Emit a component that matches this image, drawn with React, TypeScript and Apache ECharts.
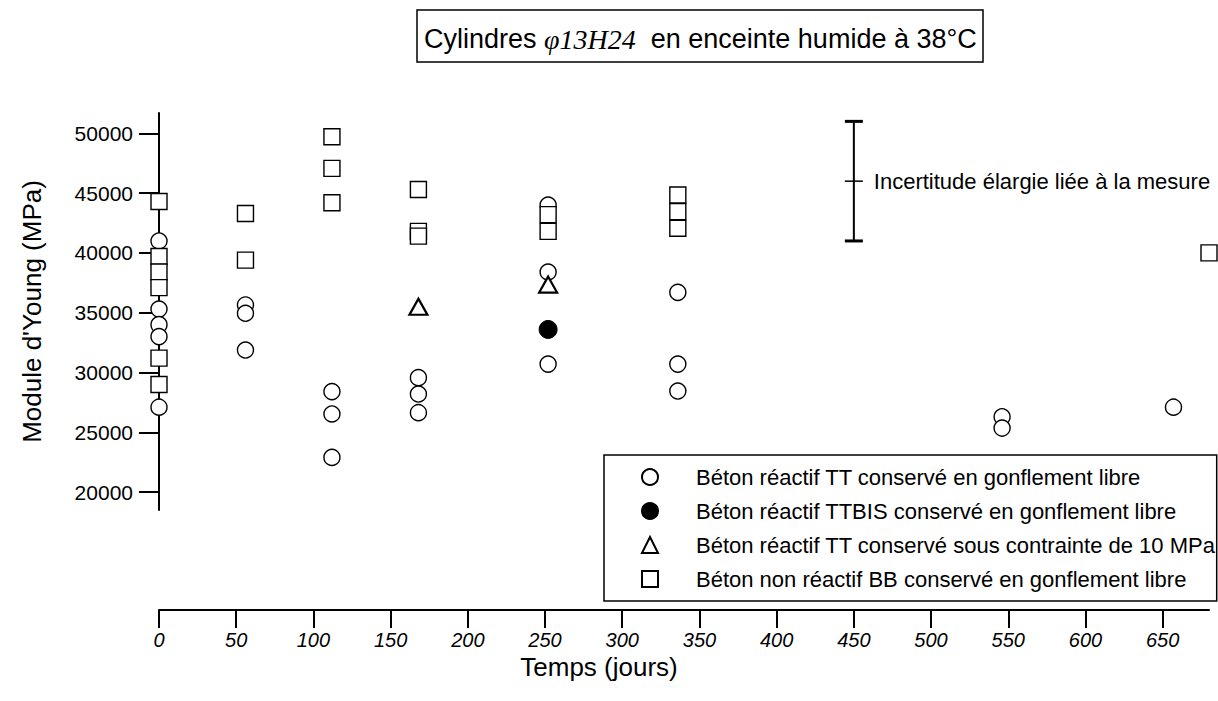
import React, { useEffect, useRef } from "react";
import * as echarts from "echarts";

// ---- data (days, Young's modulus MPa) ----
const ttFreeCircles: [number, number][] = [
  [0, 41000], [0, 35300], [0, 34000], [0, 33000], [0, 27100],
  [56, 35650], [56, 34950], [56, 31880],
  [112, 28400], [112, 26530], [112, 22900],
  [168, 29570], [168, 28200], [168, 26640],
  [252, 44000], [252, 38400], [252, 30700],
  [336, 36700], [336, 30700], [336, 28450],
  [546, 26300], [546, 25350],
  [657, 27100],
];
const ttbisFree: [number, number][] = [[252, 33600]];
const ttStressed: [number, number][] = [[168, 35500], [252, 37350]];
const bbFreeSquares: [number, number][] = [
  [0, 44300], [0, 39700], [0, 38400], [0, 37100], [0, 31200], [0, 29000],
  [56, 43300], [56, 39400],
  [112, 49720], [112, 47070], [112, 44200],
  [168, 45300], [168, 41800], [168, 41400],
  [252, 43200], [252, 41800],
  [336, 44840], [336, 43450], [336, 42060],
  [680, 40000],
];
// uncertainty bar: [day, low, high, centre]
const uncertainty: [number, number, number, number][] = [[450, 41000, 51000, 46000]];

const xTicks = [0, 50, 100, 150, 200, 250, 300, 350, 400, 450, 500, 550, 600, 650];
const yTicks = [20000, 25000, 30000, 35000, 40000, 45000, 50000];

const seriesNames = [
  "Béton réactif TT conservé en gonflement libre",
  "Béton réactif TTBIS conservé en gonflement libre",
  "Béton réactif TT conservé sous contrainte de 10 MPa",
  "Béton non réactif BB conservé en gonflement libre",
];
const uncertaintyLabel = "Incertitude élargie liée à la mesure";

const FONT = "Liberation Sans, Arial, Helvetica, sans-serif";

export default function App() {
  const ref = useRef<HTMLDivElement>(null);
  useEffect(() => {
    document.body.style.margin = "0";
    const chart = echarts.init(ref.current!, null, { renderer: "svg" });
    const X_MIN = 0, X_MAX = 680;
    chart.setOption({
      animation: false,
      backgroundColor: "#fff",
      title: {
        text: "Cylindres {i|φ13H24}  en enceinte humide à 38°C",
        left: 417,
        top: 10,
        padding: [15, 6, 9, 7],
        borderColor: "#000",
        borderWidth: 1.5,
        textStyle: {
          fontFamily: FONT,
          fontSize: 27,
          fontWeight: "normal",
          color: "#000",
          rich: {
            i: { fontFamily: "Liberation Serif, Times New Roman, serif", fontStyle: "italic", fontSize: 28, color: "#000" },
          },
        },
      },
      legend: {
        orient: "vertical",
        left: 604,
        top: 455,
        padding: [11, 1, 11, 37],
        itemGap: 12,
        itemWidth: 16,
        itemHeight: 16,
        borderColor: "#000",
        borderWidth: 1.5,
        selectedMode: false,
        data: seriesNames,
        textStyle: { fontFamily: FONT, fontSize: 22, color: "#000", padding: [0, 0, 0, 33] },
      },
      grid: [
        { left: 159, width: 1050, top: 113, height: 397, containLabel: false },
        { left: 159, width: 1050, top: 609, height: 1, containLabel: false },
      ],
      xAxis: [
        { gridIndex: 0, type: "value", min: X_MIN, max: X_MAX, show: false, splitLine: { show: false } },
        {
          gridIndex: 1,
          type: "value",
          min: X_MIN,
          max: X_MAX,
          position: "bottom",
          name: "Temps (jours)",
          nameLocation: "middle",
          nameGap: 44,
          nameTextStyle: { fontFamily: FONT, fontSize: 26, color: "#000", padding: [0, 170, 0, 0] },
          axisLine: { show: true, lineStyle: { color: "#000", width: 2 } },
          axisTick: { show: true, inside: false, length: 18, lineStyle: { color: "#000", width: 2 }, customValues: xTicks },
          axisLabel: {
            customValues: xTicks,
            margin: 20,
            fontFamily: FONT,
            fontSize: 20,
            fontStyle: "italic",
            color: "#000",
          },
          splitLine: { show: false },
        },
      ],
      yAxis: [
        {
          gridIndex: 0,
          type: "value",
          min: 18500,
          max: 51700,
          name: "Module d'Young (MPa)",
          nameLocation: "middle",
          nameGap: 114,
          nameRotate: 90,
          nameTextStyle: { fontFamily: FONT, fontSize: 26, color: "#000" },
          axisLine: { show: true, lineStyle: { color: "#000", width: 2 } },
          axisTick: { show: true, inside: false, length: 20, lineStyle: { color: "#000", width: 2 }, customValues: yTicks },
          axisLabel: {
            customValues: yTicks,
            margin: 26,
            fontFamily: FONT,
            fontSize: 21,
            color: "#000",
            formatter: (v: number) => String(v),
          },
          splitLine: { show: false },
        },
        { gridIndex: 1, type: "value", show: false, min: 0, max: 1 },
      ],
      series: [
        {
          name: seriesNames[0],
          type: "scatter",
          xAxisIndex: 0,
          yAxisIndex: 0,
          symbol: "circle",
          symbolSize: 16,
          itemStyle: { color: "#fff", borderColor: "#000", borderWidth: 1.4, opacity: 1 },
          data: ttFreeCircles,
          clip: false,
        },
        {
          name: seriesNames[1],
          type: "scatter",
          xAxisIndex: 0,
          yAxisIndex: 0,
          symbol: "circle",
          symbolSize: 18,
          itemStyle: { color: "#000", borderColor: "#000", borderWidth: 1, opacity: 1 },
          data: ttbisFree,
          clip: false,
        },
        {
          name: seriesNames[2],
          type: "scatter",
          xAxisIndex: 0,
          yAxisIndex: 0,
          symbol: "triangle",
          symbolSize: [18, 16],
          itemStyle: { color: "#fff", borderColor: "#000", borderWidth: 2.2, opacity: 1 },
          data: ttStressed,
          clip: false,
        },
        {
          name: seriesNames[3],
          type: "scatter",
          xAxisIndex: 0,
          yAxisIndex: 0,
          symbol: "rect",
          symbolSize: 16,
          itemStyle: { color: "#fff", borderColor: "#000", borderWidth: 1.4, opacity: 1 },
          data: bbFreeSquares,
          clip: false,
        },
        {
          name: "uncertainty",
          type: "custom",
          xAxisIndex: 0,
          yAxisIndex: 0,
          clip: false,
          silent: true,
          data: uncertainty,
          renderItem: (params: any, api: any) => {
            const lo = api.coord([api.value(0), api.value(1)]);
            const hi = api.coord([api.value(0), api.value(2)]);
            const mid = api.coord([api.value(0), api.value(3)]);
            const st = { stroke: "#000", lineWidth: 2 };
            return {
              type: "group",
              children: [
                { type: "line", shape: { x1: lo[0], y1: lo[1], x2: hi[0], y2: hi[1] }, style: st },
                { type: "line", shape: { x1: lo[0] - 9, y1: lo[1], x2: lo[0] + 9, y2: lo[1] }, style: { stroke: "#000", lineWidth: 3 } },
                { type: "line", shape: { x1: hi[0] - 9, y1: hi[1], x2: hi[0] + 9, y2: hi[1] }, style: { stroke: "#000", lineWidth: 3 } },
                { type: "line", shape: { x1: mid[0] - 9, y1: mid[1], x2: mid[0] + 9, y2: mid[1] }, style: { stroke: "#000", lineWidth: 1.5 } },
                {
                  type: "text",
                  x: mid[0] + 20,
                  y: mid[1],
                  style: {
                    text: uncertaintyLabel,
                    fill: "#000",
                    font: `22px ${FONT}`,
                    verticalAlign: "middle",
                    align: "left",
                  },
                },
              ],
            };
          },
        },
      ],
    });
    return () => chart.dispose();
  }, []);
  return <div ref={ref} style={{ width: 1218, height: 701 }} />;
}
